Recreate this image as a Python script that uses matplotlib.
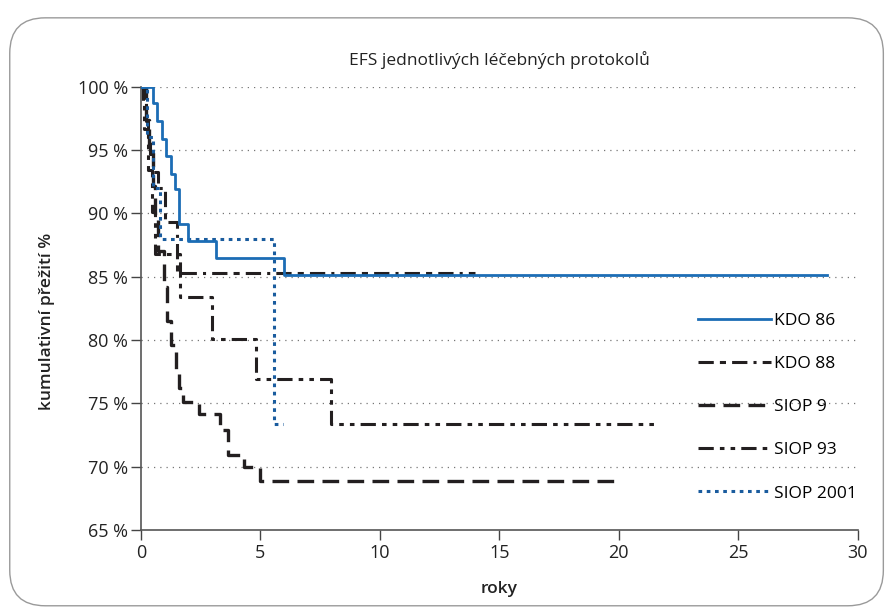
import matplotlib
matplotlib.use("Agg")
import matplotlib.pyplot as plt
from matplotlib.patches import FancyBboxPatch

plt.rcParams['font.family'] = ['Open Sans', 'DejaVu Sans']

title = "EFS jednotlivých léčebných protokolů"
xlabel = "roky"
ylabel = "kumulativní přežití %"
yticks = [65, 70, 75, 80, 85, 90, 95, 100]
ytick_labels = ["65 %", "70 %", "75 %", "80 %", "85 %", "90 %", "95 %", "100 %"]
xticks = [0, 5, 10, 15, 20, 25, 30]

kdo86_t = [0, 0.49, 0.68, 0.89, 1.07, 1.24, 1.44, 1.59, 1.98, 3.14, 6.0, 28.7]
kdo86_s = [100, 98.7, 97.3, 95.9, 94.5, 93.1, 91.9, 89.2, 87.8, 86.5, 85.1, 85.1]

kdo88_t = [0, 0.1, 0.2, 0.3, 0.4, 0.5, 0.7, 1.0, 1.5, 14.0]
kdo88_s = [100, 98.7, 97.3, 96.0, 94.7, 93.3, 92.0, 89.3, 85.3, 85.3]

siop9_t = [0, 0.2, 0.35, 0.5, 0.6, 0.7, 0.95, 1.1, 1.28, 1.45, 1.59, 1.77, 2.45, 3.33, 3.63, 4.3, 4.98, 19.8]
siop9_s = [100, 97.4, 94.8, 92.2, 89.6, 87.0, 84.2, 81.5, 79.6, 77.6, 76.2, 75.1, 74.2, 72.9, 70.9, 70.0, 68.9, 68.9]

siop93_t = [0, 0.15, 0.3, 0.45, 0.6, 1.63, 2.99, 4.8, 7.96, 21.5]
siop93_s = [100, 96.7, 93.4, 90.1, 86.8, 83.4, 80.1, 76.9, 73.4, 73.4]

siop2001_t = [0, 0.25, 0.5, 0.8, 5.57, 5.95]
siop2001_s = [100, 96, 92, 88, 73.4, 73.4]

BLUE = "#1c6db5"
DBLUE = "#1a5c9e"
BLACK = "#231f20"

fig = plt.figure(figsize=(8.86, 6.15), dpi=100)
ax = fig.add_axes([0.159, 0.138, 0.809, 0.721])

# rounded frame
frame = FancyBboxPatch((0.011, 0.015), 0.986, 0.956, boxstyle="round,pad=0,rounding_size=0.04",
                       transform=fig.transFigure, fill=False, edgecolor="#9a9a9a", linewidth=1.0,
                       mutation_aspect=886/615)
fig.patches.append(frame)

for y in yticks[1:]:
    ax.plot([0, 30], [y, y], color="#777777", linestyle=(0, (1, 4)), linewidth=0.9, zorder=1)

l1, = ax.step(kdo86_t, kdo86_s, where='post', color=BLUE, linewidth=2.0, label="KDO 86", zorder=5)
l2, = ax.step(kdo88_t, kdo88_s, where='post', color=BLACK, linewidth=2.2,
              linestyle=(0, (5, 2, 2, 2, 5, 2, 1, 2)), label="KDO 88", zorder=4)
l3, = ax.step(siop9_t, siop9_s, where='post', color=BLACK, linewidth=2.4,
              linestyle=(0, (5, 2.5)), label="SIOP 9", zorder=4)
l4, = ax.step(siop93_t, siop93_s, where='post', color=BLACK, linewidth=2.2,
              linestyle=(0, (5, 2, 1.5, 2, 1.5, 2)), label="SIOP 93", zorder=4)
l5, = ax.step(siop2001_t, siop2001_s, where='post', color=DBLUE, linewidth=2.2,
              linestyle=(0, (1.2, 1.5)), label="SIOP 2001", zorder=4)

ax.set_xlim(0, 30)
ax.set_ylim(65, 100)
ax.set_xticks(xticks)
ax.set_xticklabels([str(x) for x in xticks])
ax.set_yticks(yticks)
ax.set_yticklabels(ytick_labels)
ax.tick_params(axis='both', direction='out', length=7, width=1, color="#444444", labelsize=13, labelcolor="#222222")
ax.tick_params(axis='y', pad=2)
ax.tick_params(axis='x', pad=3)
for s in ['top', 'right']:
    ax.spines[s].set_visible(False)
for s in ['left', 'bottom']:
    ax.spines[s].set_color("#555555")
    ax.spines[s].set_linewidth(1.2)
ax.spines['left'].set_bounds(65, 100)

leg = ax.legend(handles=[l1, l2, l3, l4, l5], loc='upper left', bbox_to_anchor=(0.768, 0.505),
                frameon=False, fontsize=12.5, handlelength=4.2, handletextpad=0.15,
                labelspacing=1.55, borderaxespad=0)

fig.text(0.5 * (0.159 + 0.968), 0.903, title, ha='center', va='center', fontsize=12.5, color="#222222")
fig.text(0.5 * (0.159 + 0.968), 0.042, xlabel, ha='center', va='center', fontsize=12.5,
         fontweight='semibold', color="#222222")
fig.text(0.053, 0.478, ylabel, ha='center', va='center', rotation=90, fontsize=12.5,
         fontweight='semibold', color="#222222")

fig.savefig("out.png", dpi=100)
